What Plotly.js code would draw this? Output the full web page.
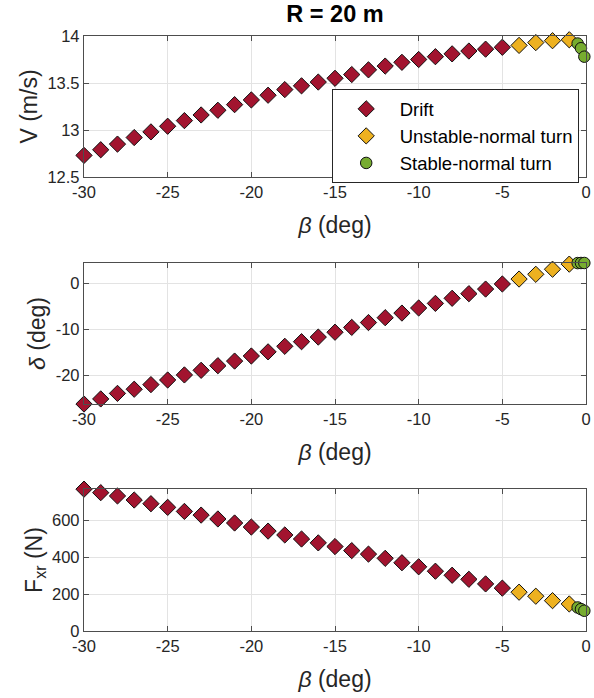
<!DOCTYPE html>
<html>
<head>
<meta charset="utf-8">
<script src="https://cdn.plot.ly/plotly-3.0.1.min.js"></script>
<style>html,body{margin:0;padding:0;background:#fff;}#chart{width:594px;height:698px;}</style>
</head>
<body>
<div id="chart"></div>
<script>
// ---- data ----
const betaDrift = [-30,-29,-28,-27,-26,-25,-24,-23,-22,-21,-20,-19,-18,-17,-16,-15,-14,-13,-12,-11,-10,-9,-8,-7,-6,-5];
const VDrift = [12.73,12.79,12.85,12.92,12.98,13.04,13.10,13.16,13.21,13.27,13.32,13.37,13.43,13.47,13.51,13.55,13.59,13.64,13.68,13.72,13.75,13.78,13.81,13.84,13.86,13.88];
const deltaDrift = [-26.2,-25.1,-23.9,-23.0,-22.0,-21.0,-19.9,-18.9,-17.9,-16.9,-15.8,-14.9,-13.7,-12.7,-11.7,-10.65,-9.6,-8.55,-7.5,-6.5,-5.4,-4.4,-3.3,-2.3,-1.3,-0.2];
const FxrDrift = [771,752,734,712,692,672,650,630,609,587,565,543,522,500,479,459,437,418,395,371,349,325,303,281,256,233];

const betaUnstable = [-4,-3,-2,-1];
const VUnstable = [13.90,13.93,13.95,13.96];
const deltaUnstable = [0.87,1.9,3.0,4.1];
const FxrUnstable = [211,189,165,147];

const betaStable = [-0.5,-0.3,-0.1];
const VStable = [13.92,13.87,13.78];
const deltaStable = [4.33,4.35,4.35];
const FxrStable = [128,119,110];

const xTicks = [-30,-25,-20,-15,-10,-5,0];

// ---- styles ----
const red = '#A2142F', yellow = '#EDB120', green = '#77AC30';
const FONT = 'Liberation Sans, Arial, Helvetica, sans-serif';
const diamond = (c) => ({symbol:'diamond', size:12.5, color:c, line:{color:'#111', width:1}});
const circle = {symbol:'circle', size:11.5, color:green, line:{color:'#111', width:1}};

function trio(ax, yD, yU, yS, showLeg) {
  const xa = ax === 1 ? 'x' : 'x' + ax, ya = ax === 1 ? 'y' : 'y' + ax;
  return [
    {x:betaDrift, y:yD, xaxis:xa, yaxis:ya, type:'scatter', mode:'markers', name:'Drift', marker:diamond(red), showlegend:showLeg, cliponaxis:false},
    {x:betaUnstable, y:yU, xaxis:xa, yaxis:ya, type:'scatter', mode:'markers', name:'Unstable-normal turn', marker:diamond(yellow), showlegend:showLeg, cliponaxis:false},
    {x:betaStable, y:yS, xaxis:xa, yaxis:ya, type:'scatter', mode:'markers', name:'Stable-normal turn', marker:circle, showlegend:showLeg, cliponaxis:false}
  ];
}

const data = [
  ...trio(1, VDrift, VUnstable, VStable, true),
  ...trio(2, deltaDrift, deltaUnstable, deltaStable, false),
  ...trio(3, FxrDrift, FxrUnstable, FxrStable, false)
];

const TICKFONT = {family:FONT, size:16.5, color:'#262626'};
const TITLEFONT = {family:FONT, size:23, color:'#262626'};

function xax(anchor) {
  return {
    anchor: anchor, domain:[0,1], range:[-30,0], tickvals:xTicks, ticktext:xTicks.map(String),
    showgrid:true, gridcolor:'#e3e3e3', gridwidth:1, zeroline:false,
    showline:true, linecolor:'#4d4d4d', linewidth:1.2, mirror:'ticks',
    ticks:'inside', ticklen:5, tickcolor:'#4d4d4d',
    tickfont:TICKFONT,
    title:{text:'<i>β</i> (deg)', font:TITLEFONT, standoff:16},
    automargin:false
  };
}
function yax(anchor, domain, range, tickvals, title) {
  return {
    anchor: anchor, domain: domain, range: range, tickvals: tickvals, ticktext: tickvals.map(String),
    showgrid:true, gridcolor:'#e3e3e3', gridwidth:1, zeroline:false,
    showline:true, linecolor:'#4d4d4d', linewidth:1.2, mirror:'ticks',
    ticks:'inside', ticklen:5, tickcolor:'#4d4d4d',
    tickfont:TICKFONT,
    title:{text:title, font:TITLEFONT, standoff:3},
    automargin:false
  };
}

const layout = {
  width:594, height:698,
  margin:{l:84, r:8, t:36, b:67},
  paper_bgcolor:'#fff', plot_bgcolor:'#fff',
  font:{family:FONT, color:'#262626'},
  title:{text:'<b>R = 20 m</b>', font:{family:FONT, size:23.5, color:'#000'}, x:0.5, xref:'paper', xanchor:'center', y:1-14/698, yref:'container', yanchor:'middle'},
  showlegend:true,
  legend:{x:(331.7-84)/502, y:(631-89.3)/595, xanchor:'left', yanchor:'top', xref:'paper', yref:'paper',
    bgcolor:'#fff', bordercolor:'#262626', borderwidth:1,
    font:{family:FONT, size:18.5, color:'#000'}, itemwidth:57},
  xaxis: xax('y'),
  yaxis: yax('x', [0.7630, 1], [12.5, 14], [12.5,13,13.5,14], 'V (m/s)'),
  xaxis2: xax('y2'),
  yaxis2: yax('x2', [0.3815, 0.6185], [-26.2, 4.35], [-20,-10,0], '<i>δ</i> (deg)'),
  xaxis3: xax('y3'),
  yaxis3: yax('x3', [0, 0.2387], [0, 772], [0,200,400,600], 'F<sub>xr</sub> (N)')
};

Plotly.newPlot('chart', data, layout, {displayModeBar:false, staticPlot:true});
</script>
</body>
</html>
